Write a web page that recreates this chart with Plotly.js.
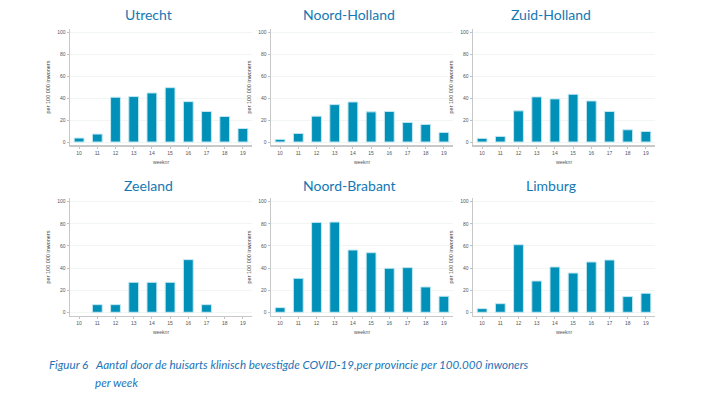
<!DOCTYPE html>
<html>
<head>
<meta charset="utf-8">
<script src="https://cdn.plot.ly/plotly-3.0.1.min.js"></script>
<style>html,body{margin:0;padding:0;background:#fff;}#chart{width:713px;height:408px;}</style>
</head>
<body>
<div id="chart"></div>
<script>
const weeks = [10, 11, 12, 13, 14, 15, 16, 17, 18, 19];
const provinces = ["Utrecht", "Noord-Holland", "Zuid-Holland", "Zeeland", "Noord-Brabant", "Limburg"];
const utrecht      = [3.6, 7.2, 40.7, 41.3, 44.6, 49.4, 36.7, 27.7, 23.2, 12.3];
const noordHolland = [2.4, 7.8, 23.5, 34.0, 36.4, 27.4, 27.7, 17.8, 16.0, 8.7];
const zuidHolland  = [3.3, 5.1, 28.3, 41.0, 39.2, 43.4, 37.3, 27.7, 11.1, 9.6];
const zeeland      = [0, 6.9, 6.9, 27.1, 27.1, 27.1, 47.6, 6.9, 0, 0];
const noordBrabant = [4.2, 30.7, 81.3, 81.6, 56.3, 53.9, 39.8, 40.4, 22.9, 14.5];
const limburg      = [3.3, 7.8, 61.1, 28.3, 41.0, 35.5, 45.5, 47.3, 14.2, 17.2];
const yTicks = [0, 20, 40, 60, 80, 100];
const series = [utrecht, noordHolland, zuidHolland, zeeland, noordBrabant, limburg];
const yTitle = "per 100 000 inwoners";
const xTitle = "weeknr";
const caption1 = "Figuur 6";
const caption2a = "Aantal door de huisarts klinisch bevestigde COVID-19,per provincie per 100.000 inwoners";
const caption2b = "per week";

const W = 713, H = 408;
const colPx = [[70, 252], [271, 453], [473, 655]];
const rowPx = [[28.7, 145.3], [198.4, 315.6]];
const titleY = [15, 186];

const traces = [];
const layout = {
  width: W, height: H,
  margin: {l: 0, r: 0, t: 0, b: 0},
  paper_bgcolor: "#ffffff", plot_bgcolor: "#ffffff",
  showlegend: false,
  bargap: 0.46,
  annotations: []
};

series.forEach((vals, i) => {
  const r = Math.floor(i / 3), c = i % 3;
  const n = i + 1;
  const xa = n === 1 ? "x" : "x" + n;
  const ya = n === 1 ? "y" : "y" + n;
  traces.push({
    type: "bar", x: weeks, y: vals, xaxis: xa, yaxis: ya,
    marker: {color: "#0090b8", line: {color: "#c4e8f2", width: vals.map(v => v > 0 ? 1 : 0)}},
    hoverinfo: "skip"
  });
  const xk = n === 1 ? "xaxis" : "xaxis" + n;
  const yk = n === 1 ? "yaxis" : "yaxis" + n;
  layout[xk] = {
    domain: [colPx[c][0] / W, colPx[c][1] / W],
    anchor: ya,
    range: [9.5, 19.5],
    tickvals: weeks, ticktext: weeks.map(String),
    ticks: "outside", ticklen: 2, tickwidth: 0.6, tickcolor: "#999",
    showline: true, linecolor: "#c8c8c8", linewidth: 1.5,
    showgrid: false, zeroline: false,
    tickfont: {family: "Liberation Sans, Arial, sans-serif", size: 5, color: "#555"},
    title: {text: xTitle, font: {family: "Liberation Sans, Arial, sans-serif", size: 5, color: "#555"}, standoff: 5},
    fixedrange: true
  };
  layout[yk] = {
    domain: [1 - rowPx[r][1] / H, 1 - rowPx[r][0] / H],
    anchor: xa,
    range: [-3, 103],
    tickvals: yTicks,
    ticks: "outside", ticklen: 2, tickwidth: 0.6, tickcolor: "#999",
    showline: true, linecolor: "#c8c8c8", linewidth: 1.5,
    showgrid: true, gridcolor: "#eef4f0", gridwidth: 0.8,
    zeroline: false,
    tickfont: {family: "Liberation Sans, Arial, sans-serif", size: 5, color: "#555"},
    title: {text: yTitle, font: {family: "Liberation Sans, Arial, sans-serif", size: 5.5, color: "#444"}, standoff: 6},
    fixedrange: true
  };
  layout.annotations.push({
    xref: "paper", yref: "paper",
    x: ((colPx[c][0] + colPx[c][1]) / 2 - 13) / W,
    y: 1 - titleY[r] / H,
    xanchor: "center", yanchor: "middle",
    text: provinces[i], showarrow: false,
    font: {family: "Lato, Open Sans, sans-serif", size: 14, color: "#1478b4"}
  });
});

const capFont = {family: "Lato, Open Sans, sans-serif", size: 11.6, color: "#1d73b8"};
layout.annotations.push({
  xref: "paper", yref: "paper", x: 47 / W, y: 1 - 364 / H,
  xanchor: "left", yanchor: "middle", showarrow: false,
  text: "<i>" + caption1 + "</i>", font: capFont
});
layout.annotations.push({
  xref: "paper", yref: "paper", x: 93 / W, y: 1 - 364 / H,
  xanchor: "left", yanchor: "middle", showarrow: false,
  text: "<i>" + caption2a + "</i>", font: capFont
});
layout.annotations.push({
  xref: "paper", yref: "paper", x: 93 / W, y: 1 - 382 / H,
  xanchor: "left", yanchor: "middle", showarrow: false,
  text: "<i>" + caption2b + "</i>", font: capFont
});

Plotly.newPlot("chart", traces, layout, {displayModeBar: false, staticPlot: true});
</script>
</body>
</html>
